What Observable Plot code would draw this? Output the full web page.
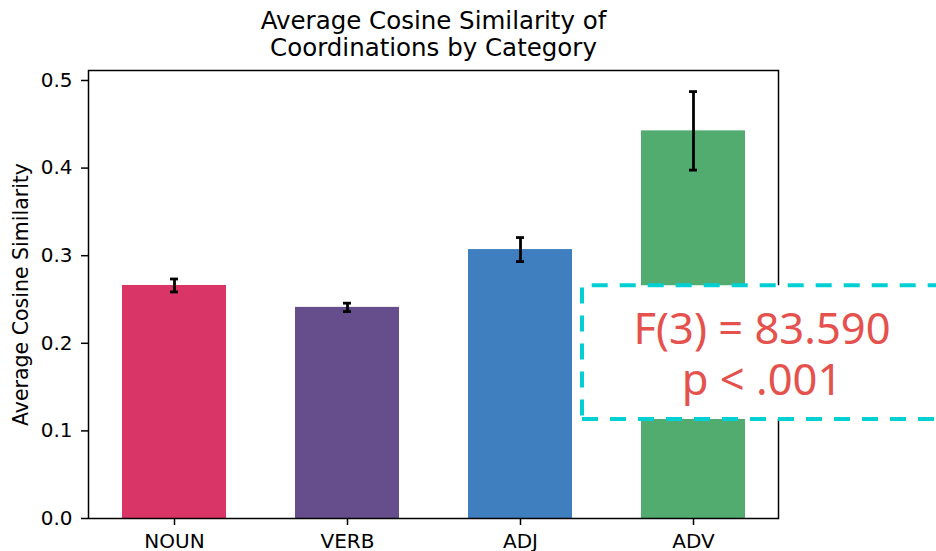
<!DOCTYPE html>
<html>
<head>
<meta charset="utf-8">
<script src="https://cdn.jsdelivr.net/npm/d3@7"></script>
<script src="https://cdn.jsdelivr.net/npm/@observablehq/plot@0.6"></script>
<style>
  html, body { margin: 0; padding: 0; background: #fff; }
  #chart { width: 936px; height: 551px; overflow: hidden; }
</style>
</head>
<body>
<div id="chart"></div>
<script>
// ---- data ----
const categories = ["NOUN", "VERB", "ADJ", "ADV"];
const means = [0.266, 0.241, 0.307, 0.4425];
const errors = [0.0074, 0.0048, 0.0137, 0.0448];
const colors = ["#d93566", "#664d8c", "#3f7fbf", "#52ac6f"];
const yTicks = [0, 0.1, 0.2, 0.3, 0.4, 0.5];
const titleLines = ["Average Cosine Similarity of", "Coordinations by Category"];
const yLabel = "Average Cosine Similarity";
const annotationLines = ["F(3) = 83.590", "p < .001"];

const data = categories.map((c, i) => ({
  cat: c, mean: means[i], lo: means[i] - errors[i], hi: means[i] + errors[i], color: colors[i]
}));

const plot = Plot.plot({
  width: 936,
  height: 551,
  marginTop: 70,
  marginBottom: 33,
  marginLeft: 88,
  marginRight: 158,
  style: { fontFamily: "DejaVu Sans", fontSize: "20px", color: "black", background: "white" },
  x: { type: "band", domain: categories, paddingInner: 0.4, paddingOuter: 0.183 },
  y: { domain: [0, 0.5114] },
  color: { type: "identity" },
  marks: [
    Plot.barY(data, { x: "cat", y: "mean", fill: "color" }),
    Plot.ruleX(data, { x: "cat", y1: "lo", y2: "hi", stroke: "black", strokeWidth: 2.8 }),
    Plot.tickY(data, { x: "cat", y: "lo", stroke: "black", strokeWidth: 2.8, insetLeft: 48, insetRight: 48 }),
    Plot.tickY(data, { x: "cat", y: "hi", stroke: "black", strokeWidth: 2.8, insetLeft: 48, insetRight: 48 }),
    Plot.frame({ stroke: "black", strokeWidth: 1.5 }),
    Plot.axisY({ ticks: yTicks, tickFormat: d3.format(".1f"), tickSize: 7, tickPadding: 9, label: null, strokeWidth: 1.5, fontSize: 20 }),
    Plot.axisX({ tickSize: 7, tickPadding: 8, label: null, strokeWidth: 1.5, fontSize: 20 }),
    Plot.text([yLabel], { text: d => d, frameAnchor: "left", textAnchor: "middle", rotate: -90, dx: -60.5, lineAnchor: "bottom", fontSize: 20.5 }),
    Plot.text([titleLines.join("\n")], { text: d => d, frameAnchor: "top", textAnchor: "middle", lineAnchor: "bottom", dy: -14.3, fontSize: 24.5, lineHeight: 1.11 })
  ]
});

document.getElementById("chart").appendChild(plot);

// ---- annotation box (pixel-placed overlay) ----
const svg = d3.select(plot);
const box = { left: 582, top: 285.3, bottom: 419, right: 990 };
const g = svg.append("g");
g.append("path")
  .attr("d", `M${box.left},${box.bottom}L${box.right},${box.bottom}L${box.right},${box.top}L${box.left},${box.top}Z`)
  .attr("fill", "white")
  .attr("stroke", "#00d0d4")
  .attr("stroke-width", 4)
  .attr("stroke-dasharray", "16,12");
const t = g.append("text")
  .attr("font-family", "'Noto Sans'")
  .attr("font-size", 43.5)
  .attr("fill", "#e5514d")
  .attr("text-anchor", "middle");
annotationLines.forEach((line, i) => {
  t.append("tspan").attr("x", 762).attr("y", 344 + i * 51).text(line);
});
</script>
</body>
</html>
